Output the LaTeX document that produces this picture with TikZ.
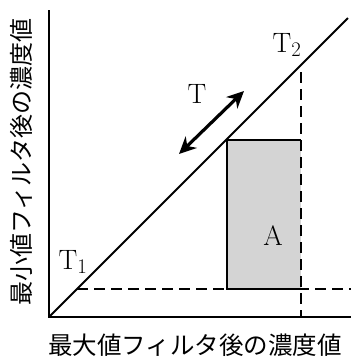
\documentclass[tikz,border=0pt]{standalone}
\usepackage{fontspec}
\newfontfamily\cjk{Noto Sans CJK JP}
\usetikzlibrary{arrows.meta}
\begin{document}
\begin{tikzpicture}[x=1pt,y=-1pt,
  axisline/.style={line width=2.2pt},
  dashline/.style={line width=1.3pt,dash pattern=on 11pt off 6pt},
  lbl/.style={font=\fontsize{28}{30}\selectfont,inner sep=0pt},
  jlbl/.style={font=\cjk\fontsize{24.5}{27}\selectfont\addfontfeatures{Weight=Light},inner sep=0pt}]
\useasboundingbox (0,0) rectangle (351,357);
\coordinate (O) at (49,317);
\coordinate (Ytop) at (49,10);
\coordinate (Xend) at (351,317);
\coordinate (Dend) at (348,18);
\coordinate (H1) at (77,289);
\coordinate (H2) at (351,289);
\coordinate (V1) at (301,72);
\coordinate (V2) at (301,317);
\fill[black!17] (227,140) rectangle (301,289);
\draw[line width=1.5pt] (301,289) -- (227,289) -- (227,140) -- (301,140);
\draw[dashline] (H1) -- (H2);
\draw[dashline] (V1) -- (V2);
\draw[axisline] (Ytop) -- (O) -- (Xend);
\draw[line width=2pt] (O) -- (Dend);
\coordinate (Aa) at (179,154);
\coordinate (Ab) at (244,91);
\draw[line width=3.2pt,{Stealth[length=17pt,width=16pt]}-{Stealth[length=17pt,width=16pt]}] (Aa) -- (Ab);
\node[lbl] (T) at (197,94) {T};
\node[lbl] (T1) at (73,262) {T$_{1}$};
\node[lbl] (T2) at (287,45) {T$_{2}$};
\node[lbl] (A) at (273,236) {A};
\node[jlbl] (xl) at (195,345) {最大値フィルタ後の濃度値};
\node[jlbl,rotate=90,font=\cjk\fontsize{24}{26}\selectfont\addfontfeatures{Weight=Light}] (yl) at (21,162) {最小値フィルタ後の濃度値};
\end{tikzpicture}
\end{document}
